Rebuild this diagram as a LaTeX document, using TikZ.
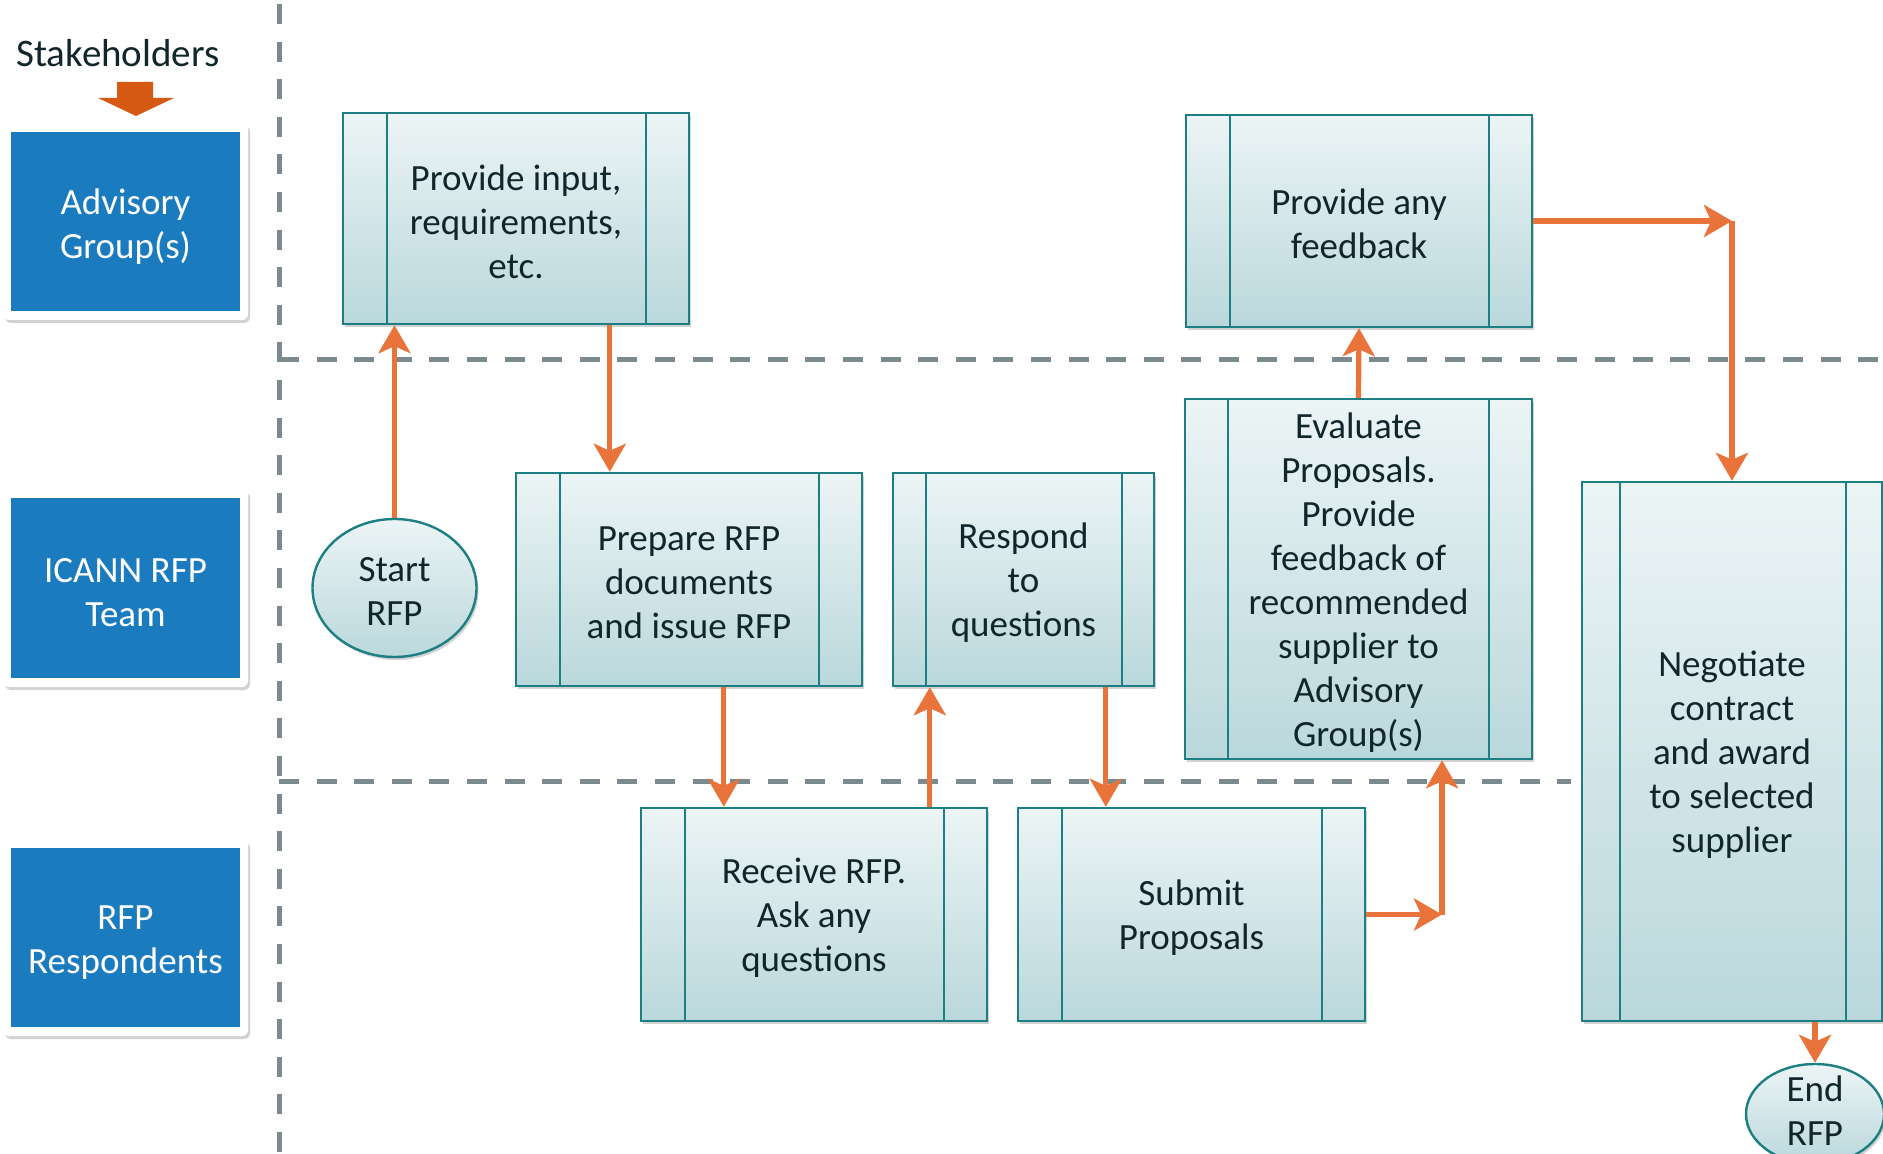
\documentclass[tikz,border=0pt]{standalone}
\usepackage{fontspec}
\setmainfont{Carlito}
\usetikzlibrary{arrows.meta,shapes.geometric,shadows,fit}
\definecolor{lanefill}{HTML}{1B7BBF}
\definecolor{procline}{HTML}{1C7F83}
\definecolor{proctop}{HTML}{ECF4F5}
\definecolor{procbot}{HTML}{BAD8DC}
\definecolor{flow}{HTML}{E8743B}
\definecolor{dashgrey}{HTML}{7A8A8E}
\definecolor{ink}{HTML}{10262B}
\definecolor{blockorange}{HTML}{D65A14}
\begin{document}
\begin{tikzpicture}[x=0.5pt,y=-0.5pt,
  every node/.style={font=\fontsize{18.5}{22}\selectfont, text=ink, align=center},
  boxtext/.style={yshift=-1.6pt},
  softshadow/.style={drop shadow={shadow xshift=1pt, shadow yshift=-1.5pt, opacity=0.25, fill=black!70}},
  proc/.style={draw=procline, line width=1.2pt, top color=proctop, bottom color=procbot, inner sep=0pt, softshadow},
  procinner/.style={draw=procline, line width=1.2pt},
  terminal/.style={ellipse, draw=procline, line width=1.2pt, top color=proctop, bottom color=procbot, inner sep=0pt, softshadow},
  laneframe/.style={fill=white, rounded corners=3pt, inner sep=0pt, softshadow},
  lanelabel/.style={fill=lanefill, text=white, inner sep=0pt},
  lanedash/.style={draw=dashgrey, line width=2.5pt, dash pattern=on 10pt off 8.8pt},
  flowarrow/.style={draw=flow, line width=2.6pt, -{Stealth[length=14pt,width=16pt,inset=3.5pt]}}
]
\useasboundingbox (0,0) rectangle (1883,1154);

% swimlane separators
\draw[lanedash] (279,4) -- (279,1154);
\draw[lanedash] (279,360) -- (1883,360);
\draw[lanedash] (279,781) -- (1571,781);

% stakeholders header
\node[font=\fontsize{19.5}{23}\selectfont] (stake) at (118,53) {Stakeholders};
\fill[blockorange] (117,82) -- (153,82) -- (153,98) -- (174,98) -- (136,116) -- (98,98) -- (117,98) -- cycle;

% lane labels
\node[laneframe, fit={(3,123) (248,320)}] (advframe) {};
\node[lanelabel, fit={(11,132) (240,311)}] (adv) {};
\node[text=white, yshift=-2.4pt] (advt) at (adv.center) {Advisory\\Group(s)};
\node[laneframe, fit={(3,489) (248,687)}] (icannframe) {};
\node[lanelabel, fit={(11,498) (240,678)}] (icann) {};
\node[text=white, yshift=-2.4pt] (icannt) at (icann.center) {ICANN RFP\\Team};
\node[laneframe, fit={(3,839) (248,1036)}] (respframe) {};
\node[lanelabel, fit={(11,848) (240,1027)}] (resp) {};
\node[text=white, yshift=-2.4pt] (respt) at (resp.center) {RFP\\Respondents};

% process boxes
\node[proc, fit={(343,113) (689,324)}] (input) {};
\draw[procinner] (387,113) -- (387,324) (646,113) -- (646,324);
\node[boxtext] (inputt) at (input.center) {Provide input,\\requirements,\\etc.};

\node[proc, fit={(1186,115) (1532,327)}] (feedback) {};
\draw[procinner] (1230,115) -- (1230,327) (1489,115) -- (1489,327);
\node[boxtext] (feedbackt) at (feedback.center) {Provide any\\feedback};

\node[proc, fit={(1185,399) (1532,759)}] (evaluate) {};
\draw[procinner] (1228,399) -- (1228,759) (1489,399) -- (1489,759);
\node[boxtext] (evaluatet) at (evaluate.center) {Evaluate\\Proposals.\\Provide\\feedback of\\recommended\\supplier to\\Advisory\\Group(s)};

\node[proc, fit={(1582,482) (1882,1021)}] (negotiate) {};
\draw[procinner] (1620,482) -- (1620,1021) (1846,482) -- (1846,1021);
\node[boxtext] (negotiatet) at (1732,751) {Negotiate\\contract\\and award\\to selected\\supplier};

\node[proc, fit={(516,473) (862,686)}] (prepare) {};
\draw[procinner] (560,473) -- (560,686) (819,473) -- (819,686);
\node[boxtext] (preparet) at (prepare.center) {Prepare RFP\\documents\\and issue RFP};

\node[proc, fit={(893,473) (1154,686)}] (respond) {};
\draw[procinner] (926,473) -- (926,686) (1122,473) -- (1122,686);
\node[boxtext] (respondt) at (respond.center) {Respond\\to\\questions};

\node[proc, fit={(641,808) (987,1021)}] (receive) {};
\draw[procinner] (685,808) -- (685,1021) (944,808) -- (944,1021);
\node[boxtext] (receivet) at (receive.center) {Receive RFP.\\Ask any\\questions};

\node[proc, fit={(1018,808) (1365,1021)}] (submit) {};
\draw[procinner] (1062,808) -- (1062,1021) (1322,808) -- (1322,1021);
\node[boxtext] (submitt) at (submit.center) {Submit\\Proposals};

% terminals
\node[terminal, minimum width=82pt, minimum height=69pt] (start) at (394.5,588) {};
\node[boxtext] (startt) at (start.center) {Start\\RFP};
\node[terminal, minimum width=69pt, minimum height=50pt] (endrfp) at (1815,1114) {};
\node (endt) at (1815,1111) {End\\RFP};

% connectors
\draw[flowarrow] (start.north) -- (start.north |- input.south);
\draw[flowarrow] ([xshift=134pt]input.south west) coordinate (s2) -- (s2 |- prepare.north);
\draw[flowarrow] ([xshift=104.5pt]prepare.south west) coordinate (s3) -- (s3 |- receive.north);
\draw[flowarrow] ([xshift=145pt]receive.north west) coordinate (s4) -- (s4 |- respond.south);
\draw[flowarrow] ([xshift=107pt]respond.south west) coordinate (s5) -- (s5 |- submit.north);
\coordinate (c1) at (1442,914.5);
\draw[flowarrow] (submit.east) -- (c1);
\draw[flowarrow] (c1) -- (c1 |- evaluate.south);
\draw[flowarrow] (evaluate.north) -- (feedback.south);
\coordinate (c2) at (1732,221);
\draw[flowarrow] (feedback.east) -- (c2);
\draw[flowarrow] (c2) -- (c2 |- negotiate.north);
\draw[flowarrow] (endrfp.north |- negotiate.south) -- (endrfp.north);
\end{tikzpicture}
\end{document}
